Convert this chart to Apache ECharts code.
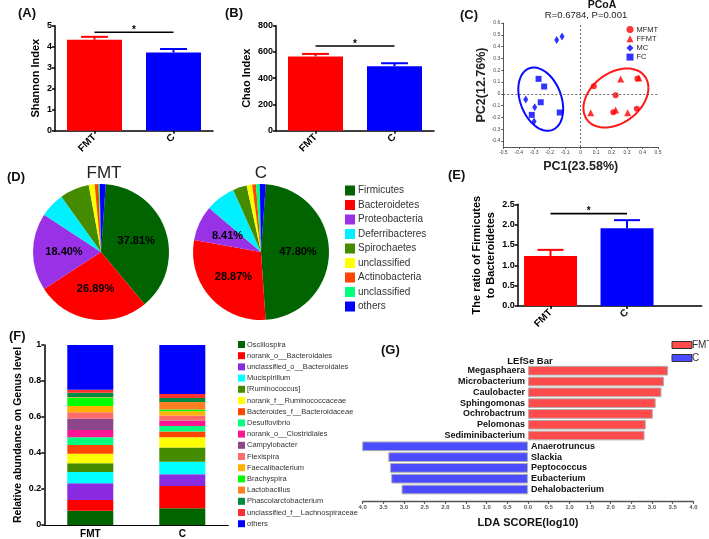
<!DOCTYPE html>
<html><head><meta charset="utf-8">
<script src="https://cdn.jsdelivr.net/npm/echarts@6/dist/echarts.min.js"></script>
<style>html,body{margin:0;padding:0;background:#fff}#c{width:709px;height:539px}</style>
</head><body><div id="c"></div>
<script>
// ---------- DATA ----------
const groups = ['FMT', 'C'];
const groupColors = ['#ff0000', '#0000ff'];
// (A) Shannon
const shannonMean = [4.33, 3.72];
const shannonErr = [0.14, 0.17];
const shannonSig = [4.69];
// (B) Chao
const chaoMean = [565, 492];
const chaoErr = [20, 22];
const chaoSig = [645];
// (E) Firmicutes/Bacteroidetes ratio
const ratioMean = [1.23, 1.91];
const ratioErr = [0.15, 0.20];
const ratioSig = [2.27];
// (C) PCoA
const pcoaMFMT = [[0.085, 0.065], [0.226, -0.012], [0.211, -0.155], [0.363, -0.127], [0.367, 0.13]];
const pcoaFFMT = [[0.259, 0.125], [0.376, 0.134], [0.065, -0.16], [0.226, -0.137], [0.304, -0.16]];
const pcoaMC = [[-0.155, 0.457], [-0.12, 0.485], [-0.355, -0.048], [-0.297, -0.113], [-0.301, -0.235]];
const pcoaFC = [[-0.272, 0.127], [-0.236, 0.062], [-0.258, -0.071], [-0.316, -0.178], [-0.135, -0.158]];
// ellipse: centerX, centerY, halfWidthX, halfHeightY, tilt(deg)
const ellipseC = [-0.258, -0.045, 0.145, 0.268, -18];
const ellipseFMT = [0.228, -0.035, 0.21, 0.25, 20];
const pcoaYTicks = [-0.4, -0.3, -0.2, -0.1, 0, 0.1, 0.2, 0.3, 0.4, 0.5, 0.6];
// (D) Phylum pies
const phylaNames = ['Firmicutes', 'Bacteroidetes', 'Proteobacteria', 'Deferribacteres', 'Spirochaetes', 'unclassified', 'Actinobacteria', 'unclassified ', 'others'];
const phylaFMT = [37.81, 26.89, 18.40, 5.9, 7.0, 1.4, 0.9, 0.3, 1.4];
const phylaC = [47.80, 28.87, 8.41, 7.1, 3.3, 1.3, 0.9, 0.9, 1.4];
const phylaColors = ['#006400', '#ff0000', '#9932e6', '#00f0ff', '#458b00', '#ffff00', '#ff4500', '#00ff7f', '#0000ff'];
// (F) Genus stacked
const genusNames = ['Oscillospira', 'norank_o__Bacteroidales', 'unclassified_o__Bacteroidales', 'Mucispirillum', '[Ruminococcus]', 'norank_f__Ruminococcaceae', 'Bacteroides_f__Bacteroidaceae', 'Desulfovibrio', 'norank_o__Clostridiales', 'Campylobacter', 'Flexispira', 'Faecalibacterium', 'Brachyspira', 'Lactobacillus', 'Phascolarctobacterium', 'unclassified_f__Lachnospiraceae', 'others'];
const genusFMT = [0.079, 0.060, 0.093, 0.062, 0.049, 0.053, 0.048, 0.043, 0.041, 0.063, 0.035, 0.035, 0.048, 0.002, 0.024, 0.017, 0.248];
const genusC = [0.093, 0.124, 0.065, 0.070, 0.078, 0.057, 0.032, 0.031, 0.028, 0.002, 0.028, 0.024, 0.009, 0.043, 0.022, 0.022, 0.272];
const genusColors = ['#006400', '#ff0000', '#8a2be2', '#00ffff', '#458b00', '#ffff00', '#ff4500', '#00ff7f', '#ff1493', '#8b4789', '#ff6a6a', '#ffb000', '#00ff00', '#ff7f24', '#008b45', '#ff3030', '#0000ff'];
// (G) LEfSe
const lefseTaxa = ['Megasphaera', 'Microbacterium', 'Caulobacter', 'Sphingomonas', 'Ochrobactrum', 'Pelomonas', 'Sediminibacterium', 'Anaerotruncus', 'Slackia', 'Peptococcus', 'Eubacterium', 'Dehalobacterium'];
const lefseFMT = [3.39, 3.29, 3.23, 3.09, 3.02, 2.85, 2.82, '-', '-', '-', '-', '-'];
const lefseC = ['-', '-', '-', '-', '-', '-', '-', -4.05, -3.38, -3.34, -3.31, -3.06];

// ---------- HELPERS ----------
const FONT = 'Liberation Sans, Arial, sans-serif';
const black = '#000';
function axisLineStyle(w) { return { show: true, lineStyle: { color: black, width: w || 1.5 } }; }

function errSeries(xi, means, errs, xs) {
  return {
    type: 'custom', xAxisIndex: xi, yAxisIndex: xi, silent: true, z: 5,
    encode: { x: 0, y: 2 },
    data: means.map((m, i) => [xs[i], m, m + errs[i], i]),
    renderItem(params, api) {
      const x = api.value(0), i = api.value(3);
      const p0 = api.coord([x, api.value(1)]), p1 = api.coord([x, api.value(2)]);
      const half = api.size([1, 0])[0] * 0.17;
      const st = { stroke: groupColors[i], lineWidth: 2 };
      return { type: 'group', children: [
        { type: 'line', shape: { x1: p0[0], y1: p0[1], x2: p1[0], y2: p1[1] }, style: st },
        { type: 'line', shape: { x1: p1[0] - half, y1: p1[1], x2: p1[0] + half, y2: p1[1] }, style: st }
      ] };
    }
  };
}
function sigSeries(xi, level, xs) {
  return {
    type: 'custom', xAxisIndex: xi, yAxisIndex: xi, silent: true, z: 6,
    encode: { x: 0, y: 2 },
    data: [[xs[0], xs[1], level[0]]],
    renderItem(params, api) {
      const a = api.coord([api.value(0), api.value(2)]), b = api.coord([api.value(1), api.value(2)]);
      return { type: 'group', children: [
        { type: 'line', shape: { x1: a[0], y1: a[1], x2: b[0], y2: b[1] }, style: { stroke: black, lineWidth: 1.6 } },
        { type: 'text', style: { text: '*', x: (a[0] + b[0]) / 2, y: a[1] + 3, align: 'center', verticalAlign: 'bottom', fontSize: 10, fontWeight: 'bold', fill: black, fontFamily: FONT } }
      ] };
    }
  };
}
function catX(gi) {
  return {
    gridIndex: gi, type: 'category', data: groups, boundaryGap: true,
    axisLine: axisLineStyle(), axisTick: { show: true, alignWithLabel: true, length: 3, lineStyle: { color: black, width: 1.5 } },
    axisLabel: { rotate: 45, fontSize: 10, fontWeight: 'bold', color: black, margin: 5, fontFamily: FONT }
  };
}
function valY(gi, min, max, interval, name, gap, fmt) {
  return {
    gridIndex: gi, type: 'value', min: min, max: max, interval: interval,
    name: name, nameLocation: 'middle', nameRotate: 90, nameGap: gap,
    nameTextStyle: { fontSize: 11, fontWeight: 'bold', color: black, fontFamily: FONT, lineHeight: 14 },
    splitLine: { show: false },
    axisLine: axisLineStyle(), axisTick: { show: true, length: 3, lineStyle: { color: black, width: 1.5 } },
    axisLabel: { fontSize: 9, fontWeight: 'bold', color: black, margin: 3, fontFamily: FONT, formatter: fmt }
  };
}
function ellipseSeries(par, color) {
  return {
    type: 'custom', xAxisIndex: 2, yAxisIndex: 2, silent: true, z: 3,
    data: [par],
    renderItem(params, api) {
      const cx = api.value(0), cy = api.value(1), a = api.value(2), b = api.value(3), phi = api.value(4) * Math.PI / 180;
      const pts = [];
      for (let k = 0; k <= 72; k++) {
        const t = k / 72 * 2 * Math.PI;
        pts.push(api.coord([cx + a * Math.cos(t), cy + b * Math.sin(t + phi)]));
      }
      return { type: 'polyline', shape: { points: pts }, style: { stroke: color, lineWidth: 2, fill: null } };
    }
  };
}

// ---------- OPTION ----------
const grids = [
  { left: 55, top: 25.7, width: 158, height: 105 },      // A
  { left: 276, top: 25.7, width: 158, height: 105 },     // B
  { left: 503.3, top: 23, width: 154.7, height: 124 },   // C
  { left: 517.7, top: 204.3, width: 184, height: 101.7 },// E
  { left: 44.3, top: 345, width: 184, height: 180 },     // F
  { left: 362.7, top: 365.3, width: 330.6, height: 129.6 } // G
];

const smallAxisLabel = { fontSize: 5, color: '#444', margin: 3, fontFamily: FONT, formatter: v => (Math.abs(v) < 1e-9 ? '0' : v.toFixed(1)) };

const xAxes = [
  catX(0),
  catX(1),
  { gridIndex: 2, type: 'value', min: -0.5, max: 0.5, interval: 0.1,
    name: 'PC1(23.58%)', nameLocation: 'middle', nameGap: 13,
    nameTextStyle: { fontSize: 12.5, fontWeight: 'bold', color: '#222', fontFamily: FONT },
    splitLine: { show: false }, axisLine: { show: true, onZero: false, lineStyle: { color: '#555', width: 1 } },
    axisTick: { show: true, length: 2, lineStyle: { color: '#555' } }, axisLabel: smallAxisLabel },
  { gridIndex: 3, type: 'value', min: 0.571, max: 2.976,
    splitLine: { show: false }, axisLine: axisLineStyle(),
    axisTick: { show: true, length: 3, customValues: [1, 2], lineStyle: { color: black, width: 1.5 } },
    axisLabel: { rotate: 45, fontSize: 10, fontWeight: 'bold', color: black, margin: 5, fontFamily: FONT, customValues: [1, 2], formatter: v => groups[Math.round(v) - 1] } },
  { gridIndex: 4, type: 'category', data: groups, boundaryGap: true,
    axisLine: axisLineStyle(1.2), axisTick: { show: false },
    axisLabel: { fontSize: 10, fontWeight: 'bold', color: black, margin: 4, fontFamily: FONT } },
  { gridIndex: 5, type: 'value', min: -4, max: 4, interval: 0.5, offset: 6.5,
    name: 'LDA SCORE(log10)', nameLocation: 'middle', nameGap: 16,
    nameTextStyle: { fontSize: 11, fontWeight: 'bold', color: '#111', fontFamily: FONT },
    splitLine: { show: false }, axisLine: { show: true, lineStyle: { color: '#555', width: 1.3 } },
    axisTick: { show: true, length: 2.5, lineStyle: { color: '#555', width: 1.2 } },
    axisLabel: { fontSize: 6, fontWeight: 'bold', color: '#555', margin: 3, fontFamily: FONT, formatter: v => Math.abs(v).toFixed(1) } }
];
const yAxes = [
  valY(0, 0, 5, 1, 'Shannon Index', 9),
  valY(1, 0, 800, 200, 'Chao Index', 19),
  { gridIndex: 2, type: 'value', min: -0.45, max: 0.6,
    name: 'PC2(12.76%)', nameLocation: 'middle', nameRotate: 90, nameGap: 9,
    nameTextStyle: { fontSize: 12.5, fontWeight: 'bold', color: '#222', fontFamily: FONT },
    splitLine: { show: false }, axisLine: { show: true, onZero: false, lineStyle: { color: '#555', width: 1 } },
    axisTick: { show: true, length: 2, customValues: pcoaYTicks, lineStyle: { color: '#555' } },
    axisLabel: Object.assign({ customValues: pcoaYTicks }, smallAxisLabel) },
  valY(3, 0, 2.5, 0.5, 'The ratio of Firmicutes\nto Bacteroidetes', 18, v => v.toFixed(1)),
  valY(4, 0, 1, 0.2, 'Relative abundance on Genus level', 17, v => (v === 0 || v === 1 ? String(v) : v.toFixed(1))),
  { gridIndex: 5, type: 'category', data: lefseTaxa, inverse: true, show: false }
];
yAxes[4].nameTextStyle.fontSize = 10.5;

const series = [];
// A
series.push({ type: 'bar', xAxisIndex: 0, yAxisIndex: 0, barWidth: 55, z: 2, silent: true,
  data: shannonMean.map((v, i) => ({ value: v, itemStyle: { color: groupColors[i] } })) });
series.push(errSeries(0, shannonMean, shannonErr, [0, 1]));
series.push(sigSeries(0, shannonSig, [0, 1]));
// B
series.push({ type: 'bar', xAxisIndex: 1, yAxisIndex: 1, barWidth: 55, z: 2, silent: true,
  data: chaoMean.map((v, i) => ({ value: v, itemStyle: { color: groupColors[i] } })) });
series.push(errSeries(1, chaoMean, chaoErr, [0, 1]));
series.push(sigSeries(1, chaoSig, [0, 1]));
// E
series.push({ type: 'bar', xAxisIndex: 3, yAxisIndex: 3, barWidth: 53, z: 2, silent: true,
  data: ratioMean.map((v, i) => ({ value: [i + 1, v], itemStyle: { color: groupColors[i] } })) });
series.push(errSeries(3, ratioMean, ratioErr, [1, 2]));
series.push(sigSeries(3, ratioSig, [1, 2]));
// C
series.push(Object.assign(ellipseSeries(ellipseC, '#0a0aff'), {
  markLine: { silent: true, symbol: 'none', label: { show: false },
    lineStyle: { type: [2, 2], color: '#444', width: 0.8 },
    data: [{ xAxis: 0 }, { yAxis: 0 }] } }));
series.push(ellipseSeries(ellipseFMT, '#ff1a1a'));
series.push({ type: 'scatter', name: 'MFMT', xAxisIndex: 2, yAxisIndex: 2, symbol: 'circle', symbolSize: 6, itemStyle: { color: '#ff0000' }, data: pcoaMFMT, z: 4 });
series.push({ type: 'scatter', name: 'FFMT', xAxisIndex: 2, yAxisIndex: 2, symbol: 'triangle', symbolSize: 7, itemStyle: { color: '#ff0000' }, data: pcoaFFMT, z: 4 });
series.push({ type: 'scatter', name: 'MC', xAxisIndex: 2, yAxisIndex: 2, symbol: 'diamond', symbolSize: [5, 8], itemStyle: { color: '#0000ff' }, data: pcoaMC, z: 4 });
series.push({ type: 'scatter', name: 'FC', xAxisIndex: 2, yAxisIndex: 2, symbol: 'rect', symbolSize: 6, itemStyle: { color: '#0000ff' }, data: pcoaFC, z: 4 });
// D pies
function pie(center, values) {
  return { type: 'pie', center: center, radius: 68, startAngle: 86, clockwise: true, silent: true,
    label: { position: 'inside', fontSize: 11, fontWeight: 'bold', color: black, fontFamily: FONT, formatter: p => p.value.toFixed(2) + '%' },
    labelLine: { show: false },
    data: phylaNames.map((n, i) => ({ name: n, value: values[i], itemStyle: { color: phylaColors[i] }, label: { show: i < 3 } })) };
}
series.push(pie([101, 252], phylaFMT));
series.push(pie([261, 252], phylaC));
// F stacked
genusNames.forEach((n, k) => {
  series.push({ type: 'bar', name: n, stack: 'genus', xAxisIndex: 4, yAxisIndex: 4, barWidth: 46, silent: true,
    itemStyle: { color: genusColors[k] }, data: [genusFMT[k], genusC[k]] });
});
// G LEfSe
series.push({ type: 'bar', name: 'FMT', xAxisIndex: 5, yAxisIndex: 5, barWidth: '90%', barGap: '-100%', silent: true,
  itemStyle: { color: '#ff4b4b', borderColor: '#b0b0b0', borderWidth: 1 },
  label: { show: true, position: 'left', distance: 3, formatter: p => p.name, fontSize: 9, fontWeight: 'bold', color: '#111', fontFamily: FONT },
  data: lefseFMT });
series.push({ type: 'bar', name: 'C', xAxisIndex: 5, yAxisIndex: 5, barWidth: '90%', barGap: '-100%', silent: true,
  itemStyle: { color: '#4b4bff', borderColor: '#b0b0b0', borderWidth: 1 },
  label: { show: true, position: 'right', distance: 3, formatter: p => p.name, fontSize: 9, fontWeight: 'bold', color: '#111', fontFamily: FONT },
  data: lefseC });

function txt(text, x, y, size, bold, align, color) {
  return { type: 'text', x: x, y: y, silent: true, style: { text: text, fontSize: size, fontWeight: bold ? 'bold' : 'normal', fill: color || '#111', fontFamily: FONT, align: align || 'left', verticalAlign: 'middle' } };
}

const option = {
  animation: false,
  textStyle: { fontFamily: FONT },
  grid: grids,
  xAxis: xAxes,
  yAxis: yAxes,
  legend: [
    { data: ['MFMT', 'FFMT', 'MC', 'FC'], orient: 'vertical', left: 626.5, top: 25.5, padding: 0, itemGap: 1.2, itemWidth: 7, itemHeight: 7, selectedMode: false,
      textStyle: { fontSize: 7.5, color: '#222', lineHeight: 7, padding: [0, 0, 0, -2] } },
    { data: phylaNames, orient: 'vertical', left: 345, top: 185.5, padding: 0, itemGap: 4.5, itemWidth: 10, itemHeight: 10, icon: 'rect', selectedMode: false,
      textStyle: { fontSize: 10, color: '#333', lineHeight: 10, padding: [0, 0, 0, -2] } },
    { data: genusNames, orient: 'vertical', left: 238, top: 340.5, height: 198, padding: 0, itemGap: 3.2, itemWidth: 7, itemHeight: 7, icon: 'rect', selectedMode: false,
      textStyle: { fontSize: 7.5, color: '#333', lineHeight: 7, padding: [0, 0, 0, -3] } },
    { data: ['FMT', 'C'], orient: 'vertical', left: 671.5, top: 340, padding: 0, itemGap: 3, itemWidth: 20, itemHeight: 7, icon: 'rect', selectedMode: false,
      itemStyle: { borderColor: '#333', borderWidth: 1 },
      textStyle: { fontSize: 10, color: '#333', lineHeight: 9, padding: [0, 0, 0, -5] } }
  ],
  graphic: [
    txt('(A)', 18, 13, 13, true), txt('(B)', 225, 13, 13, true), txt('(C)', 460, 15, 13, true),
    txt('(D)', 7, 177, 13, true), txt('(E)', 448, 175, 13, true), txt('(F)', 9, 336, 13, true), txt('(G)', 381, 350, 13, true),
    txt('PCoA', 602, 5, 10.5, true, 'center'), txt('R=0.6784, P=0.001', 586, 15.5, 9.5, false, 'center', '#222'),
    txt('FMT', 104, 173, 17, false, 'center', '#222'), txt('C', 261, 173, 17, false, 'center', '#222'),
    txt('LEfSe Bar', 530, 361, 9.5, true, 'center')
  ],
  series: series
};
const chart = echarts.init(document.getElementById('c'), null, { renderer: 'canvas' });
chart.setOption(option);
</script></body></html>
